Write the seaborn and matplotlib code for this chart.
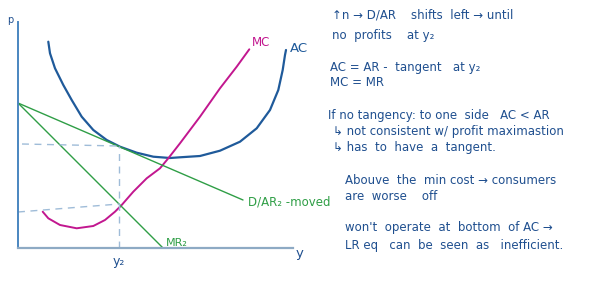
import matplotlib
matplotlib.use("Agg")
import matplotlib.pyplot as plt
import seaborn as sns
import pandas as pd

# ---- data (x = quantity, y = price) ----
ac_x = [3.03, 3.2, 3.7, 4.53, 5.37, 6.37, 7.53, 8.87, 10.2, 11.87, 13.53, 15.2, 16.2,
        18.2, 20.2, 22.2, 23.87, 25.2, 26.03, 26.47, 26.7, 26.8]
ac_y = [20.63, 19.47, 17.97, 16.3, 14.8, 13.13, 11.8, 10.8, 10.13, 9.53, 9.13, 9.0, 9.07,
        9.2, 9.73, 10.63, 11.97, 13.8, 15.8, 17.8, 19.3, 19.8]

mc_x = [2.47, 3.03, 4.2, 5.87, 7.53, 8.7, 9.7, 10.37, 11.53, 12.87, 14.2, 15.03,
        16.2, 18.2, 20.2, 21.87, 23.13]
mc_y = [3.63, 2.97, 2.3, 1.97, 2.2, 2.8, 3.63, 4.3, 5.63, 6.97, 7.97, 8.97,
        10.47, 13.13, 15.97, 18.13, 19.87]

dar_x = [0.0, 22.5]
dar_y = [14.5, 4.8]

mr_x = [0.0, 14.5]
mr_y = [14.5, 0.0]

y2 = 10.1
p_ac = 10.2     # price at tangency
p_mc = 4.4      # MC = MR level
p_mc_start = 3.6

notes = [
    "↑n → D/AR    shifts  left → until",
    "no  profits    at y₂",
    "AC = AR -  tangent   at y₂",
    "MC = MR",
    "If no tangency: to one  side   AC < AR",
    "↳ not consistent w/ profit maximastion",
    "↳ has  to  have  a  tangent.",
    "Abouve  the  min cost → consumers",
    "are  worse    off",
    "won't  operate  at  bottom  of AC →",
    "LR eq   can  be  seen  as   inefficient.",
]
note_x = [332, 332, 330, 330, 328, 333, 333, 345, 345, 345, 345]
note_y = [15, 35, 67, 82, 115, 132, 148, 180, 196, 228, 245]

# ---- style ----
sns.set_style("white")
plt.rcParams['font.family'] = ['DejaVu Sans']

W, H = 611, 286
fig = plt.figure(figsize=(W / 100, H / 100), dpi=100)
ox, oy, ex, ey = 18, 248, 293, 22
ax = fig.add_axes([ox / W, (H - oy) / H, (ex - ox) / W, (oy - ey) / H])
ax.set_xlim(0, 27.5)
ax.set_ylim(0, 22.6)

blue = "#1f5a9a"
magenta = "#c2178f"
green = "#2f9e46"
dash_c = "#9fbcd8"
text_c = "#1f4f8f"

ac_df = pd.DataFrame({"x": ac_x, "y": ac_y})
mc_df = pd.DataFrame({"x": mc_x, "y": mc_y})
sns.lineplot(data=ac_df, x="x", y="y", sort=False, color=blue, lw=1.6, ax=ax)
sns.lineplot(data=mc_df, x="x", y="y", sort=False, color=magenta, lw=1.4, ax=ax)
sns.lineplot(x=dar_x, y=dar_y, color=green, lw=1.0, ax=ax)
sns.lineplot(x=mr_x, y=mr_y, color=green, lw=1.0, ax=ax)

# dashed guide lines
ax.plot([0.4, y2], [10.4, p_ac], ls=(0, (5, 4)), color=dash_c, lw=1.0)
ax.plot([0.0, y2], [p_mc_start, p_mc], ls=(0, (5, 4)), color=dash_c, lw=1.0)
ax.plot([y2, y2], [0, p_ac], ls=(0, (5, 4)), color=dash_c, lw=1.0)

# axes
for s in ["top", "right"]:
    ax.spines[s].set_visible(False)
ax.spines["left"].set_color("#4a86c0")
ax.spines["left"].set_linewidth(1.4)
ax.spines["bottom"].set_color("#8eaac4")
ax.spines["bottom"].set_linewidth(1.6)
ax.set_yticks([])
ax.set_xticks([y2])
ax.set_xticklabels(["y₂"], color=text_c, fontsize=9)
ax.tick_params(axis="x", length=0, pad=5)
ax.set_xlabel("")
ax.set_ylabel("")

# curve labels
ax.text(27.2, 19.9, "AC", color=blue, fontsize=9.5, va="center", ha="left", clip_on=False)
ax.text(23.4, 20.5, "MC", color=magenta, fontsize=8.5, va="center", ha="left", clip_on=False)
ax.text(23.0, 4.6, "D/AR₂ -moved", color=green, fontsize=8.5, va="center", ha="left", clip_on=False)
ax.text(14.8, 0.5, "MR₂", color=green, fontsize=8, va="center", ha="left", clip_on=False)
ax.text(-0.8, 22.8, "p", color=text_c, fontsize=7, va="center", ha="center", clip_on=False)
ax.text(28.2, -0.6, "y", color=text_c, fontsize=9.5, va="center", ha="center", clip_on=False)

# notes
for t, px, py in zip(notes, note_x, note_y):
    fig.text(px / W, 1 - py / H, t, color=text_c, fontsize=8.5, va="center", ha="left")

fig.savefig("out.png", dpi=100)
